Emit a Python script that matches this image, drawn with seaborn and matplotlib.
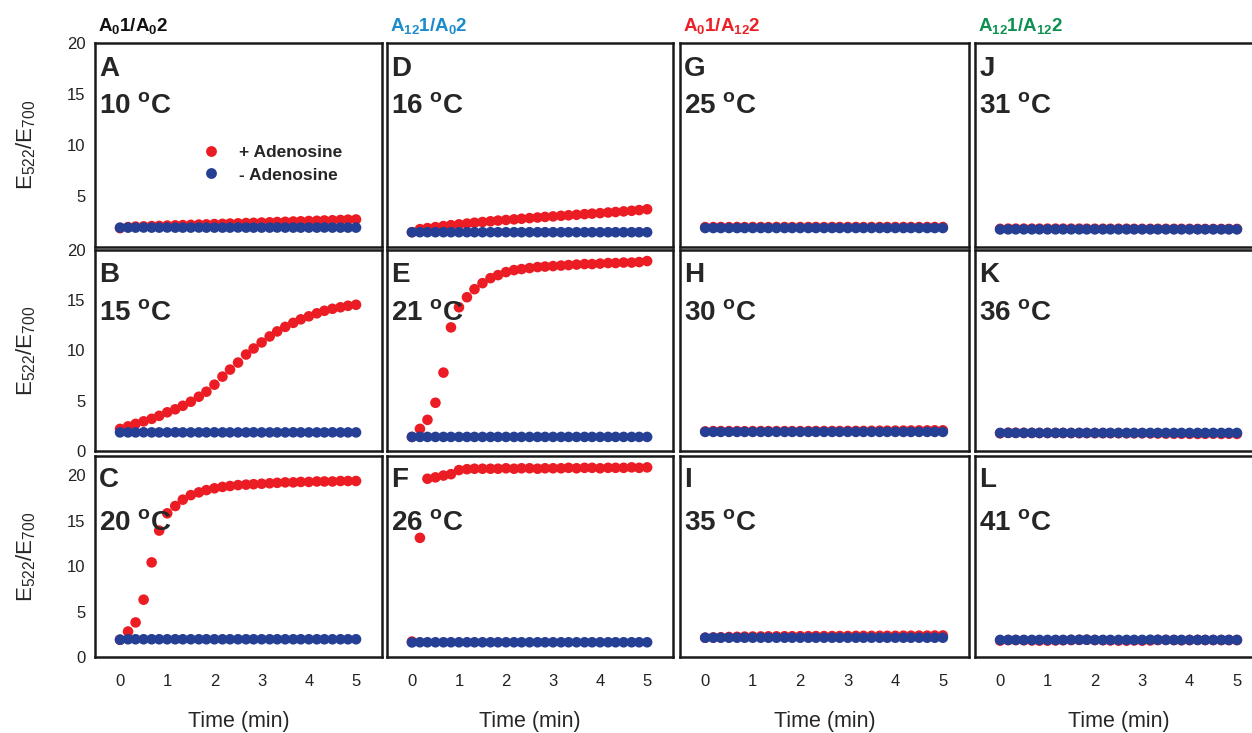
import numpy as np
import pandas as pd
import matplotlib
matplotlib.use("Agg")
import matplotlib.pyplot as plt
from matplotlib.lines import Line2D
import seaborn as sns

sns.set_style("white")
plt.rcParams["font.family"] = ["Liberation Sans", "DejaVu Sans"]
plt.rcParams["mathtext.fontset"] = "custom"
plt.rcParams["mathtext.rm"] = "Liberation Sans"
plt.rcParams["mathtext.it"] = "Liberation Sans:italic"
plt.rcParams["mathtext.bf"] = "Liberation Sans:bold"

# ---------------- data ----------------
time_min = [0, 0.17, 0.33, 0.5, 0.67, 0.83, 1, 1.17, 1.33, 1.5, 1.67, 1.83, 2, 2.17, 2.33,
            2.5, 2.67, 2.83, 3, 3.17, 3.33, 3.5, 3.67, 3.83, 4, 4.17, 4.33, 4.5, 4.67, 4.83, 5]

column_titles = [r"$\mathbf{A_{0}1/A_{0}2}$", r"$\mathbf{A_{12}1/A_{0}2}$",
                 r"$\mathbf{A_{0}1/A_{12}2}$", r"$\mathbf{A_{12}1/A_{12}2}$"]
column_colors = ["#111111", "#1B8BCB", "#EC2027", "#0E9150"]

panel_letters = ["A", "B", "C", "D", "E", "F", "G", "H", "I", "J", "K", "L"]
panel_temps = ["10", "15", "20", "16", "21", "26", "25", "30", "35", "31", "36", "41"]

A_plus = [1.85, 1.95, 2.0, 2.02, 2.05, 2.07, 2.1, 2.12, 2.15, 2.17, 2.2, 2.22, 2.25, 2.27, 2.3, 2.32,
          2.35, 2.37, 2.4, 2.42, 2.45, 2.47, 2.5, 2.52, 2.55, 2.57, 2.6, 2.62, 2.65, 2.68, 2.7]
A_minus = [1.9, 1.9, 1.9, 1.91, 1.9, 1.9, 1.91, 1.9, 1.9, 1.9, 1.91, 1.9, 1.9, 1.9, 1.9, 1.91,
           1.9, 1.9, 1.9, 1.9, 1.91, 1.9, 1.9, 1.9, 1.9, 1.9, 1.91, 1.9, 1.9, 1.9, 1.9]

B_plus = [2.2, 2.45, 2.7, 2.95, 3.2, 3.5, 3.85, 4.15, 4.5, 4.9, 5.4, 5.9, 6.6, 7.4, 8.1, 8.8,
          9.6, 10.2, 10.8, 11.4, 11.9, 12.35, 12.75, 13.1, 13.4, 13.7, 13.95, 14.15, 14.3, 14.45, 14.55]
B_minus = [1.85, 1.85, 1.85, 1.86, 1.85, 1.85, 1.85, 1.86, 1.85, 1.85, 1.85, 1.85, 1.86, 1.85, 1.85, 1.85,
           1.85, 1.86, 1.85, 1.85, 1.85, 1.85, 1.86, 1.85, 1.85, 1.85, 1.85, 1.86, 1.85, 1.85, 1.85]

C_plus = [1.9, 2.8, 3.8, 6.3, 10.4, 13.9, 15.8, 16.6, 17.3, 17.8, 18.1, 18.35, 18.55, 18.7, 18.8, 18.9,
          18.95, 19.0, 19.05, 19.1, 19.15, 19.2, 19.2, 19.25, 19.25, 19.3, 19.3, 19.3, 19.35, 19.35, 19.35]
C_minus = [1.9, 1.95, 1.95, 1.95, 1.95, 1.95, 1.95, 1.95, 1.95, 1.95, 1.95, 1.95, 1.95, 1.95, 1.95, 1.95,
           1.95, 1.95, 1.95, 1.95, 1.95, 1.95, 1.95, 1.95, 1.95, 1.95, 1.95, 1.95, 1.95, 1.95, 1.95]

D_plus = [1.45, 1.75, 1.85, 1.95, 2.05, 2.14, 2.22, 2.3, 2.38, 2.45, 2.52, 2.59, 2.65, 2.71, 2.77, 2.83,
          2.89, 2.95, 3.0, 3.06, 3.11, 3.16, 3.22, 3.27, 3.32, 3.38, 3.43, 3.49, 3.55, 3.62, 3.7]
D_minus = [1.45, 1.45, 1.45, 1.45, 1.45, 1.45, 1.45, 1.45, 1.45, 1.45, 1.45, 1.45, 1.45, 1.45, 1.45, 1.45,
           1.45, 1.45, 1.45, 1.45, 1.45, 1.45, 1.45, 1.45, 1.45, 1.45, 1.45, 1.45, 1.45, 1.45, 1.45]

E_plus = [1.4, 2.2, 3.1, 4.8, 7.8, 12.3, 14.3, 15.3, 16.1, 16.7, 17.2, 17.5, 17.8, 18.0, 18.1, 18.2,
          18.3, 18.35, 18.4, 18.45, 18.5, 18.55, 18.6, 18.6, 18.65, 18.7, 18.7, 18.75, 18.75, 18.8, 18.9]
E_minus = [1.4, 1.4, 1.4, 1.4, 1.4, 1.4, 1.4, 1.4, 1.4, 1.4, 1.4, 1.4, 1.4, 1.4, 1.4, 1.4,
           1.4, 1.4, 1.4, 1.4, 1.4, 1.4, 1.4, 1.4, 1.4, 1.4, 1.4, 1.4, 1.4, 1.4, 1.4]

F_plus = [1.7, 13.1, 19.6, 19.75, 19.95, 20.1, 20.55, 20.65, 20.7, 20.7, 20.7, 20.7, 20.75, 20.7, 20.75, 20.75,
          20.7, 20.75, 20.75, 20.75, 20.8, 20.75, 20.8, 20.8, 20.75, 20.8, 20.8, 20.8, 20.85, 20.8, 20.85]
F_minus = [1.6, 1.62, 1.62, 1.62, 1.62, 1.62, 1.62, 1.62, 1.62, 1.62, 1.62, 1.62, 1.62, 1.62, 1.62, 1.62,
           1.62, 1.62, 1.62, 1.62, 1.62, 1.62, 1.62, 1.62, 1.62, 1.62, 1.62, 1.62, 1.62, 1.62, 1.62]

G_plus = [1.95, 1.95, 1.96, 1.95, 1.96, 1.95, 1.96, 1.96, 1.95, 1.96, 1.96, 1.95, 1.96, 1.96, 1.96, 1.95,
          1.96, 1.96, 1.96, 1.96, 1.95, 1.96, 1.96, 1.96, 1.96, 1.96, 1.96, 1.96, 1.96, 1.96, 1.96]
G_minus = [1.86, 1.86, 1.86, 1.86, 1.86, 1.86, 1.86, 1.86, 1.86, 1.86, 1.86, 1.86, 1.86, 1.86, 1.86, 1.86,
           1.86, 1.86, 1.86, 1.86, 1.86, 1.86, 1.86, 1.86, 1.86, 1.86, 1.86, 1.86, 1.86, 1.86, 1.86]

H_plus = [1.95, 1.98, 1.98, 1.98, 1.98, 1.97, 1.98, 1.98, 1.98, 1.98, 1.98, 1.98, 1.98, 1.98, 1.99, 1.99,
          1.99, 1.99, 2.0, 2.0, 2.0, 2.01, 2.02, 2.02, 2.03, 2.03, 2.04, 2.05, 2.05, 2.06, 2.06]
H_minus = [1.9, 1.9, 1.9, 1.9, 1.9, 1.9, 1.9, 1.9, 1.9, 1.9, 1.9, 1.9, 1.9, 1.9, 1.9, 1.9,
           1.9, 1.9, 1.9, 1.9, 1.9, 1.9, 1.9, 1.9, 1.9, 1.9, 1.9, 1.9, 1.9, 1.9, 1.9]

I_plus = [2.12, 2.15, 2.17, 2.2, 2.22, 2.24, 2.25, 2.26, 2.27, 2.27, 2.28, 2.28, 2.29, 2.29, 2.3, 2.3,
          2.3, 2.31, 2.31, 2.32, 2.32, 2.32, 2.33, 2.33, 2.33, 2.34, 2.34, 2.35, 2.35, 2.36, 2.37]
I_minus = [2.12, 2.12, 2.12, 2.12, 2.12, 2.12, 2.12, 2.12, 2.12, 2.12, 2.12, 2.12, 2.12, 2.12, 2.12, 2.12,
           2.12, 2.12, 2.12, 2.12, 2.12, 2.12, 2.12, 2.12, 2.12, 2.12, 2.12, 2.12, 2.12, 2.12, 2.12]

J_plus = [1.78, 1.8, 1.8, 1.8, 1.8, 1.8, 1.8, 1.8, 1.8, 1.8, 1.8, 1.79, 1.79, 1.79, 1.79, 1.79,
          1.79, 1.78, 1.78, 1.78, 1.78, 1.78, 1.78, 1.78, 1.78, 1.77, 1.77, 1.77, 1.77, 1.77, 1.77]
J_minus = [1.72, 1.73, 1.73, 1.73, 1.73, 1.73, 1.73, 1.73, 1.73, 1.73, 1.73, 1.73, 1.73, 1.73, 1.73, 1.73,
           1.73, 1.73, 1.73, 1.73, 1.73, 1.73, 1.73, 1.73, 1.73, 1.73, 1.73, 1.73, 1.73, 1.73, 1.73]

K_plus = [1.76, 1.82, 1.81, 1.8, 1.8, 1.79, 1.79, 1.79, 1.79, 1.78, 1.78, 1.78, 1.78, 1.77, 1.77, 1.77,
          1.76, 1.76, 1.76, 1.75, 1.74, 1.73, 1.72, 1.72, 1.71, 1.7, 1.71, 1.72, 1.7, 1.72, 1.7]
K_minus = [1.8, 1.8, 1.8, 1.8, 1.8, 1.8, 1.8, 1.8, 1.8, 1.8, 1.8, 1.8, 1.8, 1.8, 1.8, 1.8,
           1.8, 1.8, 1.8, 1.8, 1.8, 1.8, 1.8, 1.8, 1.8, 1.8, 1.8, 1.8, 1.8, 1.8, 1.8]

L_plus = [1.8, 1.86, 1.86, 1.84, 1.82, 1.8, 1.8, 1.82, 1.84, 1.86, 1.88, 1.9, 1.86, 1.84, 1.82, 1.8,
          1.8, 1.82, 1.8, 1.82, 1.86, 1.88, 1.86, 1.84, 1.86, 1.88, 1.86, 1.86, 1.86, 1.86, 1.86]
L_minus = [1.88, 1.88, 1.88, 1.88, 1.88, 1.88, 1.88, 1.88, 1.88, 1.9, 1.9, 1.9, 1.88, 1.88, 1.88, 1.88,
           1.88, 1.88, 1.88, 1.9, 1.9, 1.88, 1.88, 1.88, 1.88, 1.88, 1.88, 1.88, 1.88, 1.88, 1.88]

plus_series = [A_plus, B_plus, C_plus, D_plus, E_plus, F_plus, G_plus, H_plus, I_plus, J_plus, K_plus, L_plus]
minus_series = [A_minus, B_minus, C_minus, D_minus, E_minus, F_minus, G_minus, H_minus, I_minus,
                J_minus, K_minus, L_minus]

y_ticks = [0, 5, 10, 15, 20]
x_ticks = [0, 1, 2, 3, 4, 5]
legend_labels = ["+ Adenosine", "- Adenosine"]

# ---------------- long-form table ----------------
rows = []
for i, letter in enumerate(panel_letters):
    for t, v in zip(time_min, plus_series[i]):
        rows.append((letter, t, v, legend_labels[0]))
    for t, v in zip(time_min, minus_series[i]):
        rows.append((letter, t, v, legend_labels[1]))
df = pd.DataFrame(rows, columns=["panel", "Time", "E", "condition"])

palette = {legend_labels[0]: "#EC1C24", legend_labels[1]: "#253F95"}
red_on_top = {"D", "F"}

# ---------------- layout ----------------
W, H = 1252, 733
fig = plt.figure(figsize=(W / 100, H / 100), dpi=100)

col_left = [95, 387, 680, 975]
col_width = [287, 286, 289, 288]
row_top = [43, 250, 456]
row_bot = [247, 451, 657]
row_ymax = [20, 20, 22.1]
letter_y = [0.84, 0.84, 0.846]
temp_y = [0.657, 0.652, 0.63]

for c in range(4):
    for r in range(3):
        idx = c * 3 + r
        letter = panel_letters[idx]
        ax = fig.add_axes([col_left[c] / W, 1 - row_bot[r] / H,
                           col_width[c] / W, (row_bot[r] - row_top[r]) / H])
        sub = df[df["panel"] == letter]
        order = [legend_labels[1], legend_labels[0]] if letter in red_on_top else legend_labels
        sns.scatterplot(data=sub, x="Time", y="E", hue="condition", hue_order=order,
                        palette=palette, s=58, linewidth=0, legend=False, ax=ax)
        ax.set_xlim(-0.53, 5.55)
        ax.set_ylim(0, row_ymax[r])
        ax.set_xticks(x_ticks)
        ax.set_yticks(y_ticks)
        ax.set_xlabel("")
        ax.set_ylabel("")
        ax.tick_params(direction="out", length=3, width=0.8, color="#555555",
                       labelsize=12, labelcolor="#222222")
        ax.tick_params(axis="x", pad=9)
        ax.tick_params(axis="y", pad=4)
        if r != 2:
            ax.set_xticklabels([])
        if c != 0:
            ax.set_yticklabels([])
        elif r == 0:
            ax.set_yticklabels(["", "5", "10", "15", "20"])
        for sp in ax.spines.values():
            sp.set_linewidth(1.8)
            sp.set_color("#1a1a1a")
            sp.set_visible(True)
        ax.text(0.015, letter_y[r], letter, transform=ax.transAxes,
                fontsize=20, fontweight="bold", va="baseline", ha="left")
        ax.text(0.015, temp_y[r], panel_temps[idx] + r" $^{\mathbf{o}}$C",
                transform=ax.transAxes, fontsize=20, fontweight="bold",
                va="baseline", ha="left")
        if r == 2:
            ax.set_xlabel("Time (min)", fontsize=15.5, labelpad=16)
        if c == 0 and r == 0:
            handles = [Line2D([], [], marker="o", linestyle="", markersize=7.8,
                              markerfacecolor=palette[l], markeredgewidth=0) for l in legend_labels]
            ax.legend(handles, legend_labels, loc="upper left", bbox_to_anchor=(0.29, 0.575),
                      frameon=False, handletextpad=0.6, labelspacing=0.4,
                      prop={"weight": "bold", "size": 12.5})
    fig.text(col_left[c] / W + 0.002, 1 - 31 / H, column_titles[c], color=column_colors[c],
             fontsize=13.5, ha="left", va="baseline")

for r in range(3):
    fig.text(26 / W, 1 - (row_top[r] + row_bot[r]) / 2 / H, r"E$_{522}$/E$_{700}$",
             rotation=90, fontsize=16, ha="center", va="center")

fig.savefig("out.png", dpi=100)
